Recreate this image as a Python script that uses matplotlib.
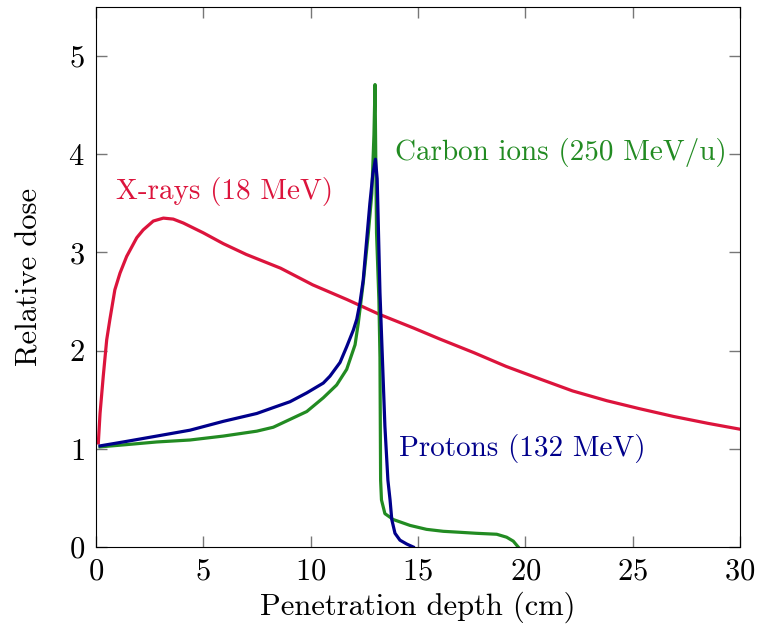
import matplotlib
matplotlib.use('Agg')
import matplotlib.pyplot as plt

plt.rcParams['font.family'] = 'serif'
plt.rcParams['font.serif'] = ['cmr10']
plt.rcParams['mathtext.fontset'] = 'cm'
plt.rcParams['axes.formatter.use_mathtext'] = True

# X-rays (18 MeV)
xray_x = [0.11, 0.19, 0.34, 0.50, 0.65, 0.88, 1.12, 1.43, 1.90, 2.20, 2.67, 3.14, 3.6,
          4.07, 5.0, 5.93, 7.0, 8.6, 10.1, 11.7, 13.2, 14.8, 16.0, 17.6, 19.1, 20.7,
          22.2, 23.8, 25.3, 26.9, 28.5, 30.0]
xray_y = [1.06, 1.36, 1.74, 2.11, 2.32, 2.62, 2.79, 2.96, 3.15, 3.23, 3.32, 3.35, 3.34,
          3.30, 3.20, 3.09, 2.98, 2.84, 2.67, 2.52, 2.37, 2.23, 2.12, 1.98, 1.84, 1.71,
          1.59, 1.49, 1.41, 1.33, 1.26, 1.20]

# Protons (132 MeV)
proton_x = [0.19, 1.27, 2.83, 4.38, 5.93, 7.49, 8.26, 9.04, 9.82, 10.59, 10.9, 11.37,
            11.68, 11.99, 12.15, 12.3, 12.45, 12.6, 12.76, 12.9, 13.02, 13.1, 13.23,
            13.46, 13.6, 13.7, 13.78, 13.93, 14.16, 14.48, 14.78]
proton_y = [1.03, 1.07, 1.13, 1.19, 1.28, 1.36, 1.42, 1.48, 1.57, 1.67, 1.74, 1.88,
            2.04, 2.21, 2.32, 2.49, 2.72, 3.10, 3.50, 3.80, 3.95, 3.75, 2.59,
            1.23, 0.68, 0.48, 0.28, 0.14, 0.07, 0.03, 0.0]

# Carbon ions (250 MeV/u)
carbon_x = [0.19, 1.27, 2.83, 4.38, 5.93, 7.49, 8.26, 9.04, 9.82, 10.59, 11.21, 11.68,
            12.07, 12.22, 12.45, 12.69, 12.85, 12.95, 13.0, 13.07, 13.18, 13.23, 13.26,
            13.3, 13.46, 13.85, 14.63, 15.4, 16.18, 16.96, 17.7, 18.67, 19.13, 19.44,
            19.67]
carbon_y = [1.02, 1.04, 1.07, 1.09, 1.13, 1.18, 1.22, 1.30, 1.38, 1.52, 1.65, 1.81,
            2.06, 2.28, 2.69, 3.2, 3.6, 4.2, 4.71, 3.2, 2.52, 1.93, 0.68,
            0.48, 0.34, 0.28, 0.22, 0.18, 0.16, 0.15, 0.14, 0.13, 0.10, 0.06,
            0.0]

fig = plt.figure(figsize=(7.58, 6.38), dpi=100)
ax = fig.add_axes([0.1266, 0.1426, 0.8496, 0.8464])

ax.plot(xray_x, xray_y, color='#dc143c', lw=2.3)
ax.plot(carbon_x, carbon_y, color='#228b22', lw=2.3)
ax.plot(proton_x, proton_y, color='#00008b', lw=2.3)

ax.text(6.0, 3.62, 'X-rays (18 MeV)', color='#dc143c', fontsize=21, ha='center', va='center')
ax.text(13.93, 4.02, 'Carbon ions (250 MeV/u)', color='#228b22', fontsize=21, ha='left', va='center')
ax.text(14.1, 1.0, 'Protons (132 MeV)', color='#00008b', fontsize=21, ha='left', va='center')

ax.set_xlim(0, 30)
ax.set_ylim(0, 5.5)
ax.set_xticks([0, 5, 10, 15, 20, 25, 30])
ax.set_yticks([0, 1, 2, 3, 4, 5])
ax.tick_params(direction='in', length=8, width=1, color='#777777', top=True, right=True,
               labelsize=22, pad=8)
ax.set_xlabel('Penetration depth (cm)', fontsize=22, labelpad=4)
ax.set_ylabel('Relative dose', fontsize=22, labelpad=18)

fig.savefig('out.png', dpi=100)
